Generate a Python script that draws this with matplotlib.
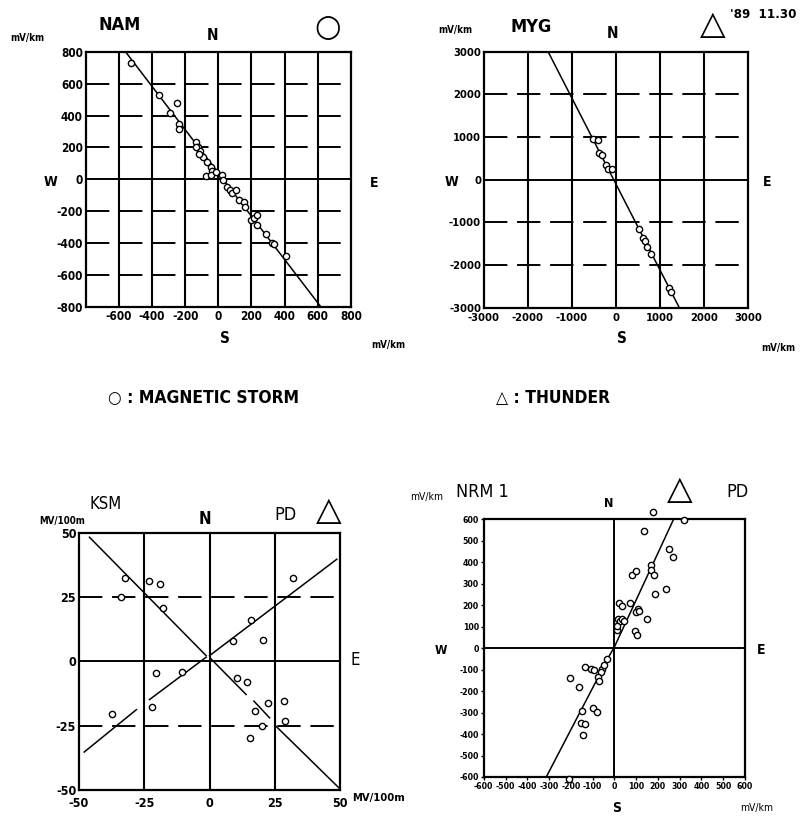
import matplotlib
matplotlib.use("Agg")
import matplotlib.pyplot as plt
import numpy as np

plt.rcParams['font.family'] = ['DejaVu Sans']
plt.rcParams['font.stretch'] = 'condensed'
plt.rcParams['font.weight'] = 'bold'

# NAM (magnetic storm), mV/km
nam_x = [-527, -360, -293, -248, -238, -238, -137, -121, -111, -93, -67, -46, -36,
         -77, -46, -16, 24, 28, 55, 69, 85, 105, 125, 156, 162, 196, 216, 236, 236,
         287, 323, 337, 408, -137, -117]
nam_y = [727, 528, 414, 479, 348, 317, 234, 203, 176, 141, 110, 79, 52,
         21, 27, 48, 27, -4, -46, -66, -87, -66, -128, -139, -170, -253, -242, -222, -284,
         -340, -398, -404, -481, 203, 162]
nam_fit_x = [-560, 620]
nam_fit_y = [800, -800]

# MYG (thunder), mV/km
myg_x = [-530, -417, -379, -326, -227, -174, -98, 530, 621, 659, 712, 788, 1212, 1242]
myg_y = [961, 922, 633, 570, 352, 242, 258, -1148, -1367, -1445, -1578, -1734, -2539, -2617]
myg_fit_x = [-1540, 1440]
myg_fit_y = [3000, -3000]

# KSM (PD, thunder), MV/100m
ksm_x = [-32.3, -34, -23, -19.1, -17.9, -37.2, -20.5, -10.5, -22, 9, 16, 20.5, 31.8,
         10.5, 14.4, 17.3, 22.4, 28.5, 19.9, 29, 15.6]
ksm_y = [32.5, 24.9, 31.4, 29.9, 20.9, -20.4, -4.6, -4.1, -17.8, 7.8, 15.9, 8.3, 32.5,
         -6.3, -8, -19.5, -16.2, -15.3, -25.1, -23.2, -30]
ksm_fit_a = [[(-46, 48.3), (-1.3, 2.2)], [(0.6, 0.9), (14, -12.9)],
             [(17, -15.5), (23, -22)], [(25.6, -25.4), (50, -49.7)]]
ksm_fit_b = [[(-48, -35.3), (-28, -18.8)], [(-23, -14.9), (-1.3, 1.6)],
             [(0, 2.2), (48.7, 39.7)]]

# NRM1 (PD, thunder), mV/km
nrm_x = [176, 319, 137, 253, 269, 168, 168, 181, 80, 99, 188, 239, 23, 37, 73, 108, 99,
         114, 150, 15, 26, 37, 45, 96, 106, 14, 11, -136, -108, -93, -56, -46, -62, -74,
         -71, -202, -164, -151, -97, -79, -154, -136, -144, -210, -35]
nrm_y = [632, 595, 544, 460, 424, 389, 365, 341, 341, 360, 251, 273, 211, 198, 211, 183,
         167, 175, 135, 135, 127, 135, 127, 79, 63, 84, 103, -87, -95, -103, -95, -79,
         -111, -135, -151, -138, -183, -294, -278, -297, -349, -354, -405, -608, -52]
nrm_fit_x = [-313, -20, 0, 270]
nrm_fit_y = [-600, -30, 5, 595]

fig = plt.figure(figsize=(8.01, 8.21), dpi=100)


def grid_panel(ax, lim, step, labels, fs=8.5, xpad=2):
    ax.set_xlim(-lim, lim)
    ax.set_ylim(-lim, lim)
    vals = np.arange(-lim, lim + 1, step)
    for v in vals[1:-1]:
        ax.axvline(v, color='black', lw=1.5)
        if v == 0:
            ax.axhline(0, color='black', lw=1.4)
        else:
            ax.axhline(v, color='black', lw=1.4, dashes=(12, 5))
    ax.set_xticks(vals)
    ax.set_yticks(vals)
    ax.set_xticklabels(labels[0], fontsize=fs, fontweight='bold')
    ax.set_yticklabels(labels[1], fontsize=fs, fontweight='bold')
    ax.tick_params(length=0, pad=2)
    ax.tick_params(axis='x', pad=xpad)
    for s in ax.spines.values():
        s.set_linewidth(1.6)


def pts(ax, x, y):
    ax.plot(x, y, 'o', ms=4.5, mfc='white', mec='black', mew=1.0, clip_on=False, zorder=5)


# NAM
ax1 = fig.add_axes([0.107, 0.626, 0.331, 0.311])
v = list(range(-800, 801, 200))
grid_panel(ax1, 800, 200, [[''] + [str(t) for t in v[1:]], [str(t) for t in v]])
ax1.plot(nam_fit_x, nam_fit_y, color='black', lw=1.1)
pts(ax1, nam_x, nam_y)

# MYG
ax2 = fig.add_axes([0.604, 0.625, 0.330, 0.312])
v = list(range(-3000, 3001, 1000))
grid_panel(ax2, 3000, 1000, [[str(t) for t in v], [str(t) for t in v]], fs=8, xpad=4)
ax2.plot(myg_fit_x, myg_fit_y, color='black', lw=1.1)
pts(ax2, myg_x, myg_y)

# KSM
ax3 = fig.add_axes([0.0986, 0.038, 0.326, 0.313])
v = [-50, -25, 0, 25, 50]
grid_panel(ax3, 50, 25, [[str(t) for t in v], [str(t) for t in v]], fs=9, xpad=5)
for seg in ksm_fit_a + ksm_fit_b:
    ax3.plot([seg[0][0], seg[1][0]], [seg[0][1], seg[1][1]], color='black', lw=1.1)
pts(ax3, ksm_x, ksm_y)

# NRM1
ax4 = fig.add_axes([0.604, 0.0536, 0.326, 0.314])
ax4.set_xlim(-600, 600)
ax4.set_ylim(-600, 600)
ax4.axvline(0, color='black', lw=1.4)
ax4.axhline(0, color='black', lw=1.4)
v = list(range(-600, 601, 100))
ax4.set_xticks(v)
ax4.set_yticks(v)
ax4.set_xticklabels([str(t) for t in v], fontsize=6.3, fontweight='bold')
ax4.set_yticklabels([str(t) for t in v], fontsize=6.3, fontweight='bold')
ax4.tick_params(length=2, width=1, pad=1.5)
for s in ax4.spines.values():
    s.set_linewidth(1.6)
ax4.plot(nrm_fit_x, nrm_fit_y, color='black', lw=1.1)
pts(ax4, nrm_x, nrm_y)


def t(x, y, s, fs, **kw):
    kw.setdefault('fontweight', 'bold')
    kw.setdefault('ha', 'center')
    kw.setdefault('va', 'center')
    fig.text(x / 801, 1 - y / 821, s, fontsize=fs, **kw)


# labels around NAM
t(120, 25, 'NAM', 13)
t(213, 35, 'N', 11)
t(328, 27, '○', 22, fontweight='normal', fontstretch='normal')
t(27, 38, 'mV/km', 7)
t(50, 182, 'W', 10)
t(374, 183, 'E', 10)
t(225, 338, 'S', 11)
t(388, 345, 'mV/km', 7)

# labels around MYG
t(455, 30, 'mV/km', 7)
t(531, 27, 'MYG', 13)
t(613, 33, 'N', 11)
t(713, 25, '△', 24, fontweight='normal', fontstretch='normal')
t(797, 14, "'89  11.30", 9.5, ha='right')
t(451, 182, 'W', 10)
t(767, 182, 'E', 10)
t(622, 338, 'S', 11)
t(778, 348, 'mV/km', 7)

# key
t(204, 398, '○ : MAGNETIC STORM', 12.5)
t(553, 398, '△ : THUNDER', 12.5)

# labels around KSM
t(106, 504, 'KSM', 12, fontweight='normal')
t(62, 521, 'MV/100m', 7)
t(205, 519, 'N', 12)
t(286, 515, 'PD', 13, fontweight='normal')
t(329, 510, '△', 24, fontweight='normal', fontstretch='normal')
t(355, 660, 'E', 12, fontweight='normal')
t(352, 798, 'MV/100m', 8, ha='left')

# labels around NRM1
t(427, 497, 'mV/km', 7.5, fontweight='normal')
t(482, 492, 'NRM 1', 13, fontweight='normal')
t(609, 503, 'N', 9)
t(680, 489, '△', 24, fontweight='normal', fontstretch='normal')
t(737, 492, 'PD', 13, fontweight='normal')
t(441, 651, 'W', 9)
t(761, 650, 'E', 10)
t(617, 808, 'S', 10)
t(757, 808, 'mV/km', 7.5, fontweight='normal')

fig.savefig('out.png', dpi=100)
